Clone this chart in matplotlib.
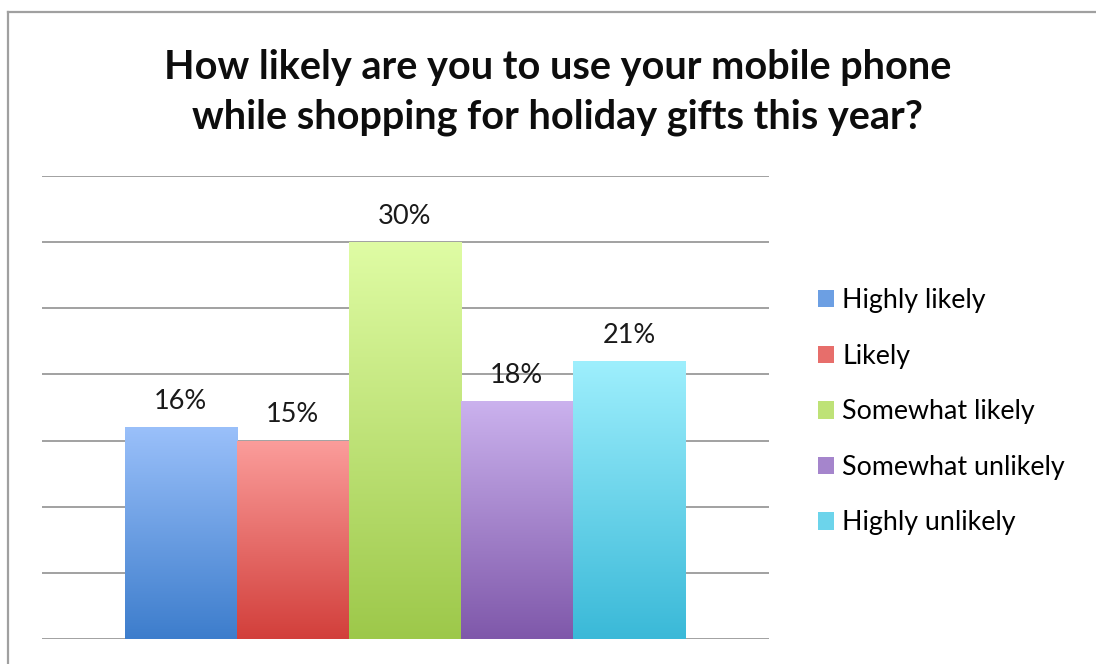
import numpy as np
import matplotlib.pyplot as plt
from matplotlib.colors import LinearSegmentedColormap
from matplotlib.patches import Patch
from matplotlib.lines import Line2D

plt.rcParams['font.family'] = ['Lato', 'DejaVu Sans']

# survey answers
answers = ['Highly likely', 'Likely', 'Somewhat likely', 'Somewhat unlikely', 'Highly unlikely']
shares = [16, 15, 30, 18, 21]
# (top, bottom) shade of each bar's gradient
shades = [('#9ac0fa', '#3d7dcc'),
          ('#fb9d9b', '#d23f3b'),
          ('#dffca4', '#9dc84a'),
          ('#cbb2ee', '#7f58aa'),
          ('#9eeffd', '#3ab9d8')]

title = 'How likely are you to use your mobile phone\nwhile shopping for holiday gifts this year?'

fig = plt.figure(figsize=(10.96, 6.64), dpi=100)
ax = fig.add_axes([0.0383, 0.0377, 0.6633, 0.6973])

x = np.arange(len(answers))
bars = ax.bar(x, shares, width=1.0, color='none', edgecolor='none', zorder=3)

ax.set_xlim(-1.24, 5.25)
ax.set_ylim(0, 35)

# vertical gradient inside each bar
grad = np.linspace(1, 0, 256).reshape(-1, 1)
for rect, (top, bottom) in zip(bars, shades):
    cmap = LinearSegmentedColormap.from_list('g', [bottom, top])
    x0, w, h = rect.get_x(), rect.get_width(), rect.get_height()
    im = ax.imshow(grad, cmap=cmap, vmin=0, vmax=1, aspect='auto',
                   extent=(x0, x0 + w, 0, h), zorder=3, interpolation='bicubic')
    im.set_clip_path(rect)

for xi, v in zip(x, shares):
    ax.annotate(f'{v}%', (xi, v), xytext=(0, 13), textcoords='offset points',
                ha='center', va='baseline', fontsize=19.5, color='#1a1a1a')

ax.set_yticks(np.arange(0, 36, 5))
ax.yaxis.grid(True, color='#9a9a9a', linewidth=1.3, zorder=0)
ax.set_axisbelow(True)
ax.tick_params(left=False, bottom=False, labelleft=False, labelbottom=False)
for s in ax.spines.values():
    s.set_visible(False)

fig.text(0.509, 0.807, title, ha='center', va='baseline', fontsize=28.5,
         fontweight='bold', color='#0d0d0d', linespacing=1.4)

handles = [Patch(facecolor=LinearSegmentedColormap.from_list('m', [b, t])(0.5), edgecolor='none')
           for t, b in shades]
ax.legend(handles, answers, loc='upper left', bbox_to_anchor=(0.746, 0.566),
          bbox_transform=fig.transFigure, frameon=False, fontsize=19.3,
          handlelength=0.62, handleheight=0.62, handletextpad=0.3,
          labelspacing=1.14, borderaxespad=0, borderpad=0)

# chart frame
fig.add_artist(Line2D([0.0073, 0.0073], [0, 0.982], transform=fig.transFigure,
                      color='#a0a0a0', linewidth=1.6))
fig.add_artist(Line2D([0.0073, 1.0], [0.982, 0.982], transform=fig.transFigure,
                      color='#a0a0a0', linewidth=1.6))

fig.savefig('out.png', dpi=100)
